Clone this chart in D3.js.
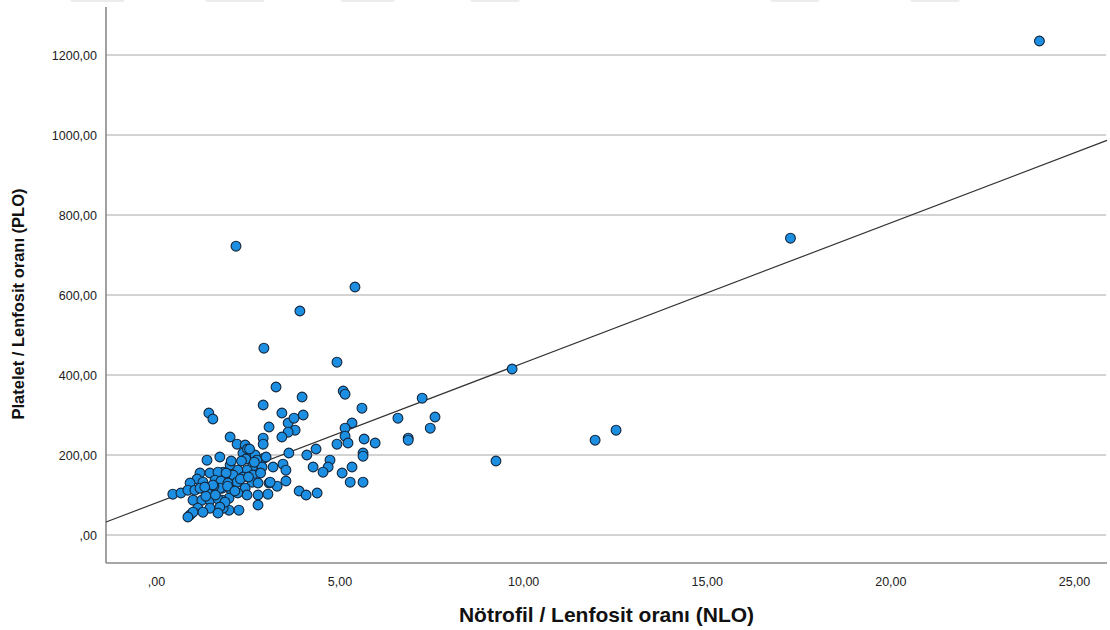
<!DOCTYPE html>
<html><head><meta charset="utf-8">
<script src="https://cdn.jsdelivr.net/npm/d3@7"></script>
<style>body{margin:0;background:#fff}svg{display:block;font-family:"Liberation Sans",Arial,sans-serif}</style>
</head><body><svg id="c" width="1110" height="630"></svg>
<script>
// NLO (x) values
const nlo = [24.06,17.28,12.53,11.96,9.70,9.26,7.60,7.47,7.25,6.87,6.87,6.59,5.42,3.92,2.18,2.94,4.93,5.10,5.15,3.27,
3.98,2.92,5.61,3.43,4.01,3.60,3.76,3.08,3.79,3.60,3.43,2.92,2.92,2.02,1.44,1.55,5.34,5.15,5.15,5.67,
5.97,4.93,5.23,3.62,4.36,4.11,5.64,5.64,4.74,4.69,4.28,4.55,3.19,3.46,3.54,5.34,5.07,3.08,3.30,3.54,
5.29,5.64,3.90,4.09,4.39,2.78,3.05,2.78,2.26,1.99,2.21,2.43,2.56,2.37,2.70,1.74,2.45,2.94,2.75,2.89,
2.02,2.62,2.48,2.23,1.83,2.37,2.10,2.64,1.88,2.21,2.62,3.11,2.78,2.43,2.02,1.80,2.48,2.23,1.99,1.80,
1.83,1.39,1.20,1.47,1.69,1.91,1.12,0.93,1.28,1.61,1.77,1.96,0.46,0.68,0.87,1.06,1.20,1.42,1.74,1.01,
1.25,1.47,1.69,1.88,1.14,1.47,1.74,0.93,1.01,1.28,1.69,0.87,2.49,2.33,1.58,1.36,
2.55,2.68,2.30,1.95,1.55,1.33,2.15,2.85,3.00,1.62,2.05,2.52];
// PLO (y) values
const plo = [1235,742,262,237,415,185,295,267,342,242,237,292,620,560,722,467,432,360,352,370,
345,325,317,305,300,280,292,270,262,257,245,242,227,245,305,290,280,267,247,240,
230,227,230,205,215,200,205,197,187,170,170,157,170,177,162,170,155,130,122,135,
132,132,110,100,105,100,102,75,62,62,227,225,207,205,200,195,190,192,187,170,
175,170,162,162,157,145,150,150,137,132,132,132,130,117,115,117,100,105,92,87,
67,187,155,155,157,155,140,130,132,137,135,130,102,105,112,112,117,107,117,87,
87,87,90,82,67,67,70,50,57,57,55,45,215,185,122,97,
215,182,140,122,125,120,110,155,195,100,185,145];
// regression line: PLO = a + b * NLO
const fitIntercept = 80;
const fitSlope = 35;
const yTicks = [0,200,400,600,800,1000,1200];
const yTickLabels = [",00","200,00","400,00","600,00","800,00","1000,00","1200,00"];
const xTicks = [0,5,10,15,20,25];
const xTickLabels = [",00","5,00","10,00","15,00","20,00","25,00"];
const xTitle = "Nötrofil / Lenfosit oranı (NLO)";
const yTitle = "Platelet / Lenfosit oranı (PLO)";

const svg = d3.select("#c");
const L=106,R=1107,T=7,B=563;
const x = d3.scaleLinear().domain([-1.36,25.9]).range([L,R]);
const y = d3.scaleLinear().domain([-70,1320]).range([B,T]);

// faint marks at top edge
[[70,125],[205,265],[340,395],[470,520],[770,820],[910,960]].forEach(([a,b])=>{
  svg.append("rect").attr("x",a).attr("y",-4).attr("width",b-a).attr("height",6).attr("rx",3).attr("fill","#ececec");
});

// gridlines
svg.append("g").selectAll("line").data(yTicks).join("line")
  .attr("x1",L).attr("x2",R-1).attr("y1",d=>y(d)).attr("y2",d=>y(d))
  .attr("stroke","#d3d3d3").attr("stroke-width",1.8);

// axes
const yAxis = d3.axisLeft(y).tickValues(yTicks).tickSize(0).tickPadding(9)
  .tickFormat((d,i)=>yTickLabels[i]);
const gy = svg.append("g").attr("transform",`translate(${L},0)`).call(yAxis);
gy.select(".domain").remove();
gy.selectAll("text").attr("font-size",12.5).attr("fill","#222").attr("font-family","Liberation Sans, Arial, sans-serif");

const xAxis = d3.axisBottom(x).tickValues(xTicks).tickSize(0).tickPadding(14)
  .tickFormat((d,i)=>xTickLabels[i]);
const gx = svg.append("g").attr("transform",`translate(0,${B})`).call(xAxis);
gx.select(".domain").remove();
gx.selectAll("text").attr("font-size",12.5).attr("fill","#222").attr("font-family","Liberation Sans, Arial, sans-serif");

svg.append("line").attr("x1",L).attr("x2",L).attr("y1",T).attr("y2",B).attr("stroke","#8a8a8a").attr("stroke-width",1.6);
svg.append("line").attr("x1",L).attr("x2",R).attr("y1",B).attr("y2",B).attr("stroke","#8a8a8a").attr("stroke-width",1.6);

// fit line
const [x0,x1]=x.domain();
svg.append("line").attr("x1",x(x0)).attr("y1",y(fitIntercept+fitSlope*x0))
  .attr("x2",x(x1)).attr("y2",y(fitIntercept+fitSlope*x1))
  .attr("stroke","#333").attr("stroke-width",1.2);

// points
const pts = nlo.map((v,i)=>({x:v,y:plo[i]}));
svg.append("g").selectAll("circle").data(pts).join("circle")
  .attr("cx",d=>x(d.x)).attr("cy",d=>y(d.y)).attr("r",4.9)
  .attr("fill","#1c8fe3").attr("stroke","#15263a").attr("stroke-width",1.1);

// titles
svg.append("text").attr("x",(L+R)/2).attr("y",622).attr("text-anchor","middle")
  .attr("font-size",21).attr("font-weight","bold").attr("fill","#111").text(xTitle);
svg.append("text").attr("transform",`translate(24,${(T+B)/2+19}) rotate(-90)`).attr("text-anchor","middle")
  .attr("font-size",16.5).attr("font-weight","bold").attr("fill","#111").text(yTitle);
</script></body></html>
